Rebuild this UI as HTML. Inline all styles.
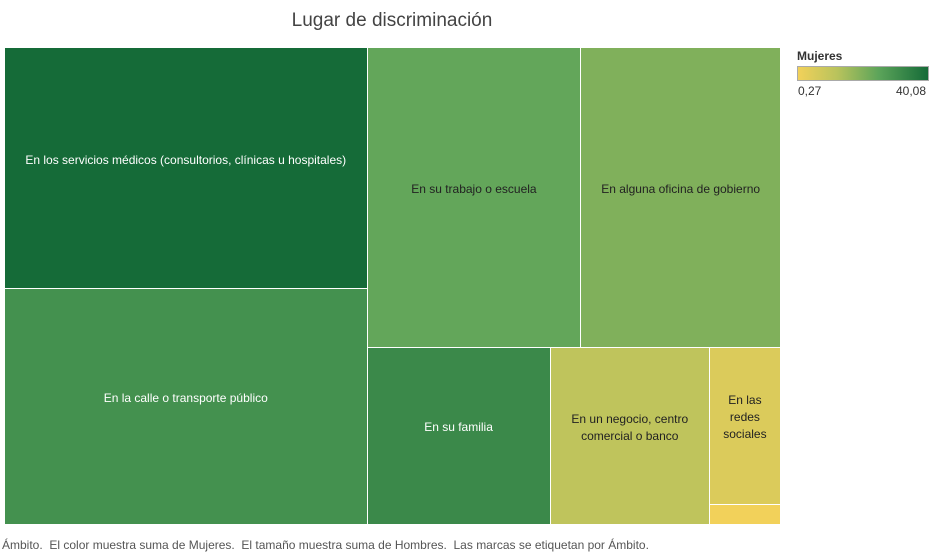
<!DOCTYPE html>
<html><head><meta charset="utf-8"><style>
body{margin:0;width:934px;height:553px;background:#fff;font-family:"Liberation Sans",sans-serif;position:relative;overflow:hidden}
.t{position:absolute;white-space:nowrap}
.cell{position:absolute;box-sizing:border-box;border-right:1px solid #fff;border-bottom:1px solid #fff;display:flex;align-items:center;justify-content:center;text-align:center;font-size:12px;line-height:17px;padding-bottom:16px}
</style></head><body>
<div class="t" style="left:0;width:784px;text-align:center;top:10px;font-size:19px;color:#444">Lugar de discriminación</div>
<div id="map" style="position:absolute;left:5px;top:48px;width:776px;height:477px"></div>
<div class="t" style="left:797px;top:49px;font-size:12px;font-weight:bold;color:#333">Mujeres</div>
<div style="position:absolute;left:797px;top:66px;width:132px;height:15px;box-sizing:border-box;border:1px solid #aaa;background:linear-gradient(to right,#f2d15a,#b9c35c 30%,#5ca45a 62%,#156b38)"></div>
<div class="t" style="left:798px;top:84px;font-size:12px;color:#333">0,27</div>
<div class="t" style="left:896px;top:84px;font-size:12px;color:#333">40,08</div>
<div class="t" style="left:2px;top:538px;font-size:12px;color:#555">Ámbito.&nbsp; El color muestra suma de Mujeres.&nbsp; El tamaño muestra suma de Hombres.&nbsp; Las marcas se etiquetan por Ámbito.</div>
<script>
const labels=["En los servicios médicos (consultorios, clínicas u hospitales)","En la calle o transporte público","En su trabajo o escuela","En alguna oficina de gobierno","En su familia","En un negocio, centro comercial o banco","En las redes sociales","Otro"];
const hombres=[86.6,84.8,63.5,59.3,32.2,28.0,11.1,1.4];
const mujeres=[40.08,30,24,20,32,11,5,0.27];
const W=776,H=477;
const stops=[[0,[242,209,90]],[0.3,[185,195,92]],[0.62,[92,164,90]],[1,[21,107,56]]];
function color(v){const t=(v-0.27)/(40.08-0.27);for(let i=1;i<stops.length;i++){if(t<=stops[i][0]){const a=stops[i-1],b=stops[i];const f=(t-a[0])/(b[0]-a[0]);const c=a[1].map((x,k)=>Math.round(x+(b[1][k]-x)*f));return{c:`rgb(${c})`,t}}}return{c:"rgb(21,107,56)",t:1}}
const map=document.getElementById('map');
function cell(i,x,y,w,h){const d=document.createElement('div');d.className='cell';


const col=color(mujeres[i]);d.style.cssText=`left:${x}px;top:${y}px;width:${w}px;height:${h}px;background:${col.c};color:${col.t>0.6?'#fff':'#222'}`;
if(i<7){let txt=labels[i];if(i==5)txt='En un negocio, centro<br>comercial o banco';if(i==6)txt='En las<br>redes<br>sociales';d.innerHTML=txt;}
map.appendChild(d);}
const sum=a=>a.reduce((s,v)=>s+v,0);
const tot=sum(hombres);
const c1=W*(hombres[0]+hombres[1])/tot;
const h0=H*hombres[0]/(hombres[0]+hombres[1]);
cell(0,0,0,c1,h0);cell(1,0,h0,c1,H-h0);
const rest=tot-hombres[0]-hombres[1],rw=W-c1;
const th=H*(hombres[2]+hombres[3])/rest;
const w2=rw*hombres[2]/(hombres[2]+hombres[3]);
cell(2,c1,0,w2,th);cell(3,c1+w2,0,rw-w2,th);
const bt=sum(hombres.slice(4)),bh=H-th;
let x=c1;
const w4=rw*hombres[4]/bt;cell(4,x,th,w4,bh);x+=w4;
const w5=rw*hombres[5]/bt;cell(5,x,th,w5,bh);x+=w5;
const w6=W-x,h6=bh*hombres[6]/(hombres[6]+hombres[7]);
cell(6,x,th,w6,h6);cell(7,x,th+h6,w6,bh-h6);
</script>
</body></html>
